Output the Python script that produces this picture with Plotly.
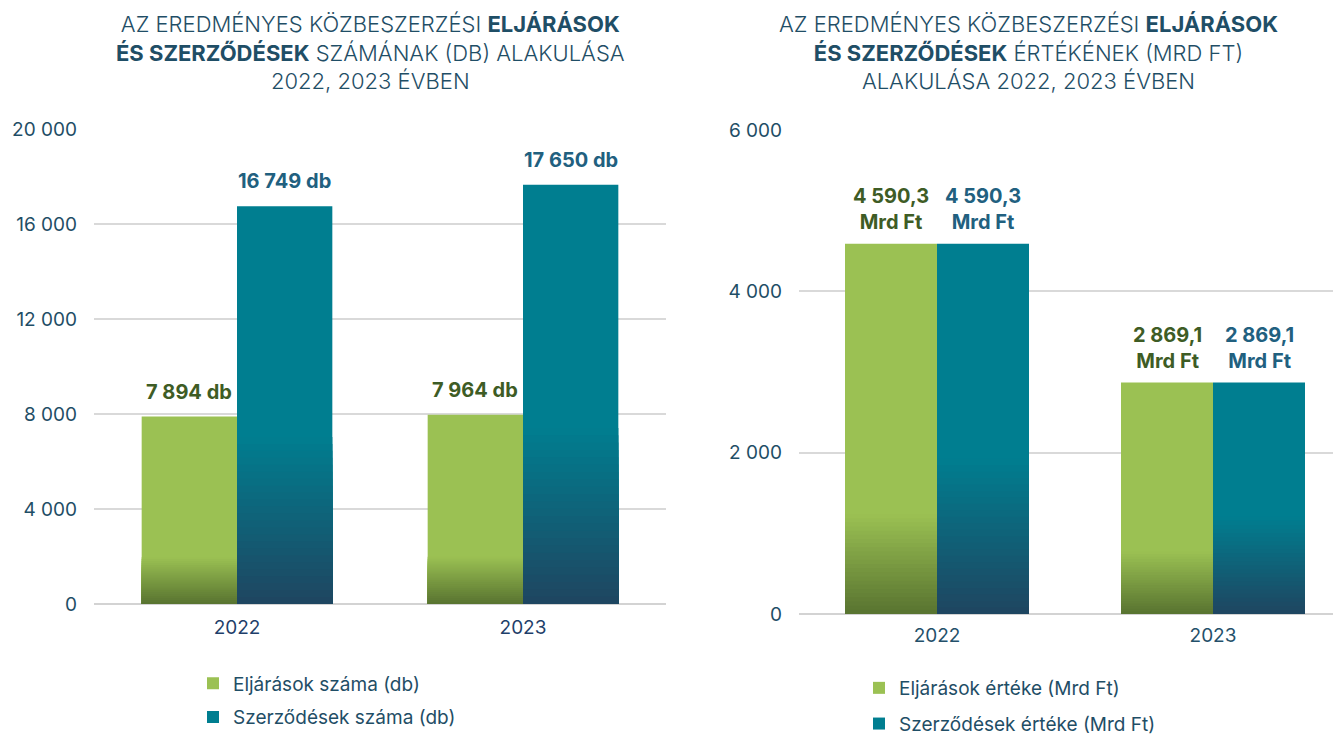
import plotly.graph_objects as go

# ---------------- data ----------------
years = ["2022", "2023"]
eljarasok_db = [7894, 7964]
szerzodesek_db = [16749, 17650]
eljarasok_mrd = [4590.3, 2869.1]
szerzodesek_mrd = [4590.3, 2869.1]

left_yticks = [0, 4000, 8000, 12000, 16000, 20000]
right_yticks = [0, 2000, 4000, 6000]

title_left = ("AZ EREDMÉNYES KÖZBESZERZÉSI <b>ELJÁRÁSOK</b><br>"
              "<b>ÉS SZERZŐDÉSEK</b> SZÁMÁNAK (DB) ALAKULÁSA<br>2022, 2023 ÉVBEN")
title_right = ("AZ EREDMÉNYES KÖZBESZERZÉSI <b>ELJÁRÁSOK</b><br>"
               "<b>ÉS SZERZŐDÉSEK</b> ÉRTÉKÉNEK (MRD FT)<br>ALAKULÁSA 2022, 2023 ÉVBEN")

names_left = ["Eljárások száma (db)", "Szerződések száma (db)"]
names_right = ["Eljárások értéke (Mrd Ft)", "Szerződések értéke (Mrd Ft)"]

# ---------------- styles ----------------
# page body has an 8px margin, so the figure is 8px smaller than the window
W, H = 1333, 727
OFF = 8
FONT = "Inter, Roboto, sans-serif"
TFONT = "Inter, Roboto, sans-serif"
TXT = "#1F4E66"
GREEN_TOP, GREEN_BOT = "#9BC153", "#587330"
TEAL_TOP, TEAL_BOT = "#007E90", "#1F4560"
GREEN_LBL, TEAL_LBL = "#3E5C25", "#21607F"
BW = 1 / 3


def px_x(sx):
    return (sx - OFF) / W


def px_y(sy):
    return 1 - (sy - OFF) / H


def hex2rgb(h):
    h = h.lstrip("#")
    return [int(h[i:i + 2], 16) for i in (0, 2, 4)]


def mix(c1, c2, t):
    a, b = hex2rgb(c1), hex2rgb(c2)
    return "rgb(%d,%d,%d)" % tuple(round(a[i] + (b[i] - a[i]) * t) for i in range(3))


def fmt_num(v, dec=0):
    s = f"{v:,.{dec}f}"
    return s.replace(",", " ").replace(".", ",")


fig = go.Figure()


def add_series(vals, name, top, bot, frac, offset, xa, ya, legend, group):
    xs = [0, 1]
    fig.add_trace(go.Bar(
        x=xs, y=vals, name=name, width=BW, offset=offset,
        marker=dict(color=top, line=dict(width=0)),
        xaxis=xa, yaxis=ya, legend=legend, legendgroup=group,
        hoverinfo="skip"))
    N = 24
    for k in range(N):
        t = 1 - k / N
        hgt = [v * frac * t for v in vals]
        col = mix(bot, top, t - 0.5 / N)
        fig.add_trace(go.Bar(
            x=xs, y=hgt, width=BW, offset=offset,
            marker=dict(color=col, line=dict(width=0)),
            xaxis=xa, yaxis=ya, showlegend=False, hoverinfo="skip"))


add_series(eljarasok_db, names_left[0], GREEN_TOP, GREEN_BOT, 0.25, -BW, "x", "y", "legend", "a")
add_series(szerzodesek_db, names_left[1], TEAL_TOP, TEAL_BOT, 0.42, 0, "x", "y", "legend", "b")
add_series(eljarasok_mrd, names_right[0], GREEN_TOP, GREEN_BOT, 0.27, -BW, "x2", "y2", "legend2", "c")
add_series(szerzodesek_mrd, names_right[1], TEAL_TOP, TEAL_BOT, 0.42, 0, "x2", "y2", "legend2", "d")

LBL = 20
annotations = []
for i in range(2):
    annotations.append(dict(x=i - BW / 2, y=eljarasok_db[i], xref="x", yref="y",
                            text=f"<b>{fmt_num(eljarasok_db[i])} db</b>", showarrow=False,
                            yanchor="middle", yshift=25, font=dict(family=FONT, size=LBL, color=GREEN_LBL)))
    annotations.append(dict(x=i + BW / 2, y=szerzodesek_db[i], xref="x", yref="y",
                            text=f"<b>{fmt_num(szerzodesek_db[i])} db</b>", showarrow=False,
                            yanchor="middle", yshift=25, font=dict(family=FONT, size=LBL, color=TEAL_LBL)))
    for xoff, vals, col in ((-BW / 2, eljarasok_mrd, GREEN_LBL), (BW / 2, szerzodesek_mrd, TEAL_LBL)):
        annotations.append(dict(x=i + xoff, y=vals[i], xref="x2", yref="y2",
                                text=f"<b>{fmt_num(vals[i], 1)}<br>Mrd Ft</b>", showarrow=False,
                                yanchor="bottom", yshift=8, font=dict(family=FONT, size=LBL, color=col)))

for text, cx in ((title_left, 370), (title_right, 1028)):
    annotations.append(dict(x=px_x(cx), y=px_y(52), xref="paper", yref="paper",
                            text=text, showarrow=False, xanchor="center", yanchor="middle",
                            align="center",
                            font=dict(family=TFONT, size=22, color=TXT, weight=300)))

axis_common = dict(showgrid=False, zeroline=False, showline=False, ticks="",
                   automargin=False, fixedrange=True)
yaxis_common = dict(showgrid=True, gridcolor="#D9D9D9", gridwidth=1.5, zeroline=True,
                    zerolinecolor="#D3D3D3", zerolinewidth=2, showline=False, ticks="",
                    tickfont=dict(family=FONT, size=19, color=TXT), tickformat=",d",
                    separatethousands=True, ticklabelstandoff=16, automargin=False,
                    fixedrange=True)

fig.update_layout(
    width=W, height=H, margin=dict(l=0, r=0, t=0, b=0, autoexpand=False),
    paper_bgcolor="white", plot_bgcolor="white",
    barmode="overlay", separators=", ",
    font=dict(family=FONT, color=TXT),
    xaxis=dict(axis_common, domain=[px_x(94), px_x(666)], range=[-0.5, 1.5],
               tickvals=[0, 1], ticktext=years, tickfont=dict(family=FONT, size=19, color="#1F3F6A"),
               ticklabelstandoff=10, anchor="y"),
    yaxis=dict(yaxis_common, domain=[px_y(604), px_y(129)], range=[0, 20000],
               tickvals=left_yticks, anchor="x"),
    xaxis2=dict(axis_common, domain=[px_x(799), 1.0], range=[-0.5, -0.5 + 542 / 276],
                tickvals=[0, 1], ticktext=years, tickfont=dict(family=FONT, size=19, color="#24506A"),
                ticklabelstandoff=8, anchor="y2"),
    yaxis2=dict(yaxis_common, domain=[px_y(614), px_y(130)], range=[0, 6000],
                tickvals=right_yticks, anchor="x2"),
    legend=dict(x=px_x(193), y=px_y(664.5), xanchor="left", yanchor="top",
                font=dict(family=FONT, size=19, color=TXT), bgcolor="rgba(0,0,0,0)",
                traceorder="grouped", tracegroupgap=6, itemclick=False, itemdoubleclick=False),
    legend2=dict(x=px_x(859), y=px_y(669), xanchor="left", yanchor="top",
                 font=dict(family=FONT, size=19, color=TXT), bgcolor="rgba(0,0,0,0)",
                 traceorder="grouped", tracegroupgap=8, itemclick=False, itemdoubleclick=False),
    annotations=annotations,
    showlegend=True,
)

fig.write_html("out.html")
